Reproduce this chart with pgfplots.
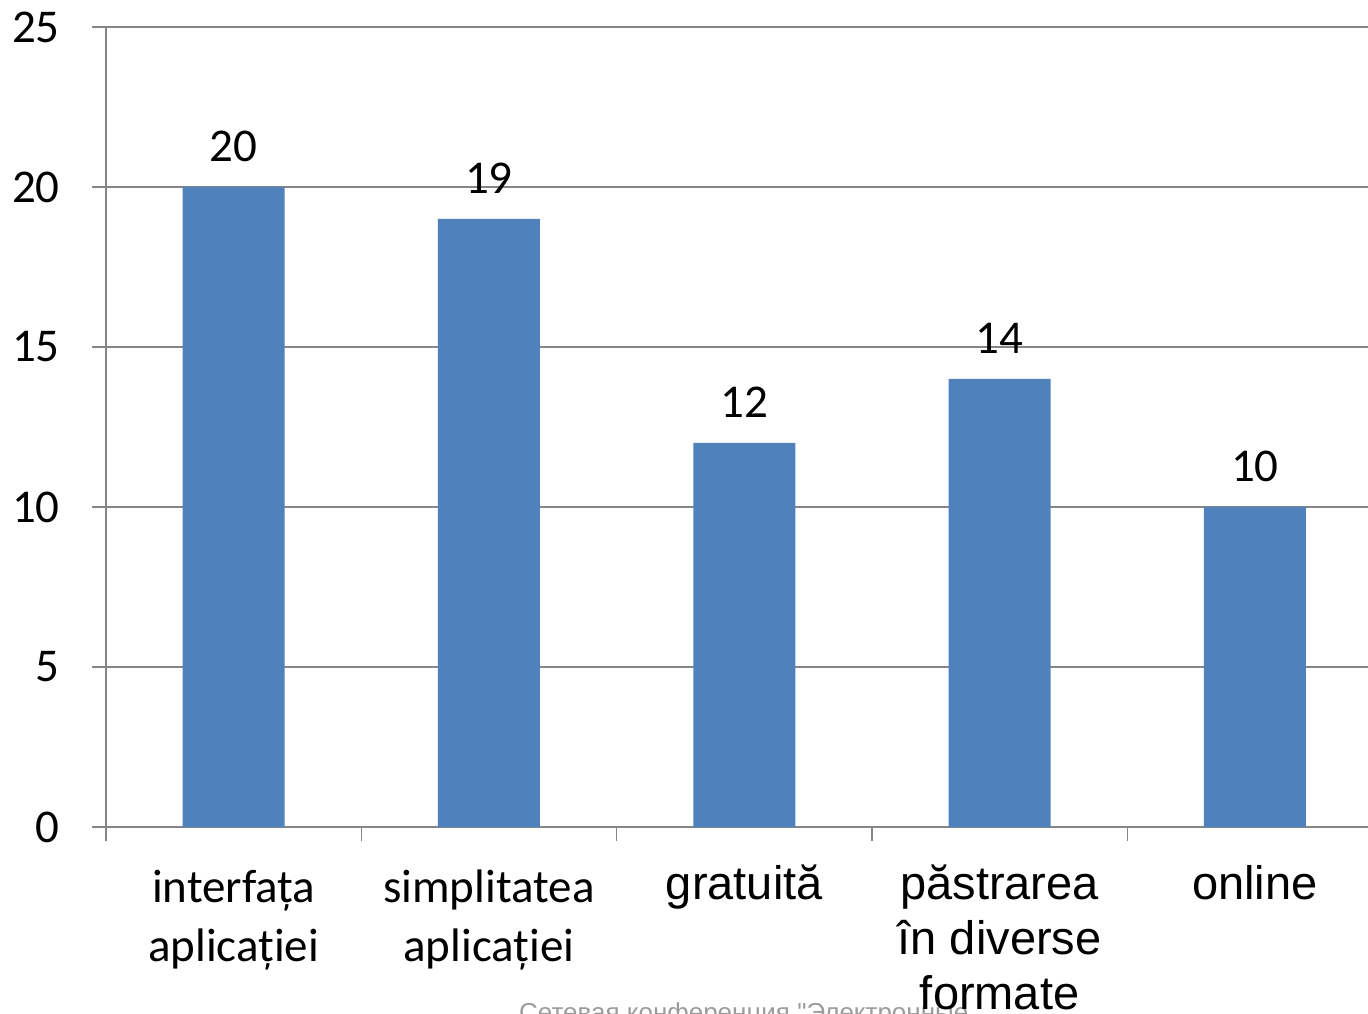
\documentclass[border=0pt]{standalone}
\usepackage{pgfplots}
\pgfplotsset{compat=1.18}
\usepackage{fontspec}
\setmainfont{Carlito}
\newfontfamily\calibri{Carlito}
\newfontfamily\arial{Liberation Sans}
\newcommand\cf{\calibri\fontsize{47bp}{59bp}\selectfont}
\newcommand\af{\arial\fontsize{47bp}{55bp}\selectfont}
\definecolor{barblue}{RGB}{79,129,189}
\definecolor{gridgray}{RGB}{134,134,134}
\definecolor{wmgray}{RGB}{155,155,155}

\pgfplotstableread{
x y
0 20
1 19
2 12
3 14
4 10
}\reasons

\begin{document}
\begin{tikzpicture}
\useasboundingbox (-106bp,-187bp) rectangle (1262bp,827bp);
\clip (-106bp,-187bp) rectangle (1262bp,827bp);
% watermark of the source page, cut by the lower edge
\node[anchor=north west, inner sep=0pt, text=wmgray,
      font=\arial\fontsize{26bp}{30bp}\selectfont] at (413bp,-175bp)
      {Сетевая конференция "Электронные};
\begin{axis}[
    at={(0,0)}, anchor=south west,
    scale only axis, width=1262bp, height=800bp,
    xmin=-0.5, xmax=4.443, ymin=0, ymax=25,
    axis x line=bottom, axis y line=left,
    axis line style={-, draw=gridgray, line width=1.5bp},
    ymajorgrids, grid style={draw=gridgray, line width=1.5bp},
    ytick={0,5,...,25}, yticklabels={0,5,10,15,20,25},
    xtick={0,1,2,3,4},
    minor xtick={-0.5,0.5,1.5,2.5,3.5},
    tick align=outside,
    major tick length=14bp, minor tick length=14bp,
    tick style={draw=gridgray, line width=1.5bp},
    major x tick style={draw=none},
    yticklabel style={font=\cf, inner sep=0pt, xshift=-32bp},
    xticklabel style={font=\cf, align=center, anchor=north, inner sep=0pt, yshift=-20bp},
    xticklabels={
        {\cf\strut interfața\\\cf aplicației},
        {\cf\strut simplitatea\\\cf aplicației},
        {\af\strut gratuită},
        {\af\strut păstrarea\\[-4bp]\af în diverse\\[-4bp]\af formate},
        {\af\strut online}},
    /pgf/number format/assume math mode=true,
    nodes near coords,
    every node near coord/.append style={font=\cf, anchor=south, inner sep=0pt, yshift=25bp},
]
\addplot[ybar, bar width=102bp, fill=barblue, draw=none] table[x=x, y=y] {\reasons};
\end{axis}
\end{tikzpicture}
\end{document}
